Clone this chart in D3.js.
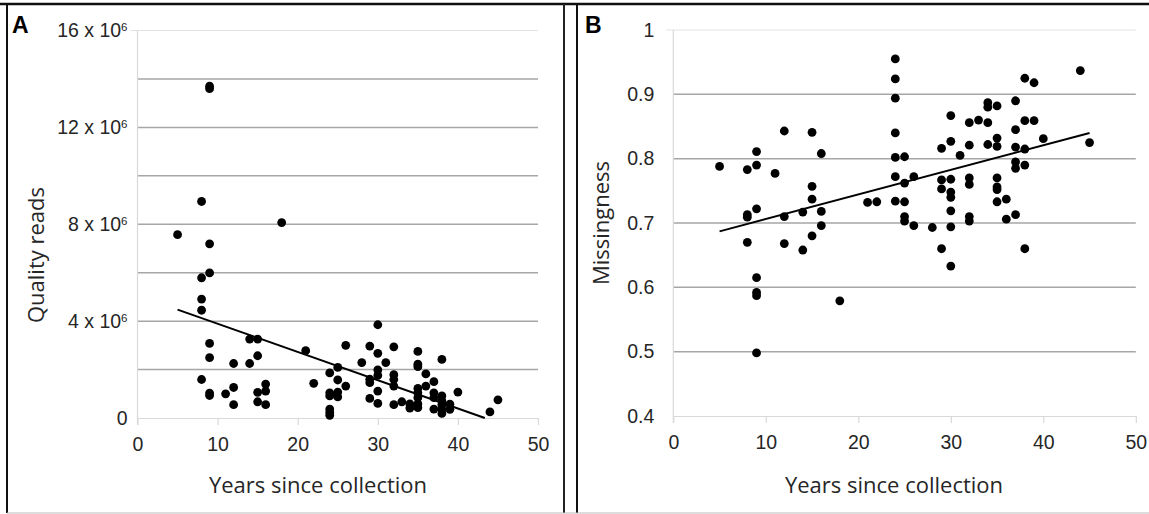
<!DOCTYPE html>
<html>
<head>
<meta charset="utf-8">
<script src="https://cdn.jsdelivr.net/npm/d3@7"></script>
<style>
  body { margin: 0; background: #fff; }
  svg { display: block; font-family: "Open Sans", sans-serif; }
  .grid line { stroke: #a6a6a6; stroke-width: 1.5; }
  .axis path, .axis line { stroke: #d9d9d9; stroke-width: 1.2; }
  .axis text { fill: #262626; font-size: 19.5px; }
  .title { fill: #262626; font-size: 22px; }
  .panel-letter { font-family: Arial, "Liberation Sans", sans-serif; font-weight: bold; font-size: 23px; }
</style>
</head>
<body>
<div id="chart"></div>
<script>
// Panel A: quality reads (millions) vs years since collection
const yearsA = [5, 8, 9, 9, 9, 18,
  8, 9, 8, 8, 9, 14, 15, 9, 15, 12, 14, 21, 8, 9, 9, 12, 11, 12, 16, 16, 15, 15, 16,
  30, 26, 29, 30, 32, 28, 31, 35, 35, 35, 38, 25, 24, 22, 25, 26, 30, 30, 29, 29, 32, 32, 32,
  36, 37, 36, 35, 35, 35, 37, 37, 40, 38, 38, 38, 38, 38, 24, 24, 25, 25, 24, 24, 24,
  29, 30, 30, 32, 33, 34, 34, 35, 35, 37, 39, 39, 44, 45];
const readsA = [7.57, 8.94, 13.7, 13.6, 7.19, 8.07,
  5.79, 5.99, 4.91, 4.45, 3.08, 3.26, 3.26, 2.49, 2.57, 2.25, 2.25, 2.78, 1.59, 1.03, 0.93, 1.26, 1.0, 0.55, 1.40, 1.11, 1.06, 0.67, 0.55,
  3.85, 3.0, 2.97, 2.67, 2.94, 2.29, 2.29, 2.75, 2.22, 2.12, 2.42, 2.09, 1.86, 1.43, 1.57, 1.32, 1.99, 1.76, 1.60, 1.46, 1.79, 1.59, 1.32,
  1.82, 1.50, 1.32, 1.22, 1.04, 0.84, 1.04, 0.84, 1.07, 0.91, 0.71, 0.55, 0.36, 0.19, 1.04, 0.91, 1.07, 0.87, 0.37, 0.23, 0.11,
  0.81, 0.60, 1.11, 0.55, 0.67, 0.58, 0.41, 0.58, 0.43, 0.37, 0.57, 0.36, 0.25, 0.75];
const trendA = { x0: 5, intercept: 5.06, slope: -0.1167 };
const ticksYA = [0, 4, 8, 12, 16];
const gridYA = [2, 4, 6, 8, 10, 12, 14];

// Panel B: missingness vs years since collection
const yearsB = [12, 15, 9, 16, 5, 8, 9, 11, 15, 15, 21, 9, 8, 8, 12, 14, 16, 16, 15, 8, 12, 14, 9, 9, 9, 18, 9,
  24, 24, 24, 24, 24, 25, 24, 26, 25, 24, 25, 22, 25, 25, 26, 28, 29, 29, 30, 30, 31, 29, 29, 30, 30, 30, 30, 30, 30,
  32, 33, 34, 34, 35, 34, 32, 34, 35, 35, 32, 32, 35, 35, 35, 35, 36, 32, 32, 36, 37, 37, 38, 39, 37, 38, 39, 37, 38,
  40, 37, 37, 38, 38, 44, 45];
const missB = [0.843, 0.841, 0.811, 0.808, 0.788, 0.783, 0.790, 0.777, 0.757, 0.737, 0.732, 0.722, 0.713, 0.709, 0.710, 0.717, 0.718, 0.696, 0.680, 0.670, 0.668, 0.658, 0.615, 0.592, 0.587, 0.579, 0.498,
  0.955, 0.924, 0.894, 0.840, 0.802, 0.803, 0.772, 0.772, 0.762, 0.734, 0.733, 0.733, 0.710, 0.703, 0.696, 0.693, 0.660, 0.816, 0.867, 0.827, 0.805, 0.767, 0.753, 0.768, 0.748, 0.740, 0.719, 0.694, 0.633,
  0.856, 0.860, 0.887, 0.880, 0.882, 0.856, 0.821, 0.822, 0.832, 0.819, 0.770, 0.760, 0.770, 0.756, 0.752, 0.733, 0.737, 0.710, 0.703, 0.706, 0.713, 0.890, 0.925, 0.918, 0.845, 0.859, 0.859, 0.818, 0.815,
  0.831, 0.795, 0.785, 0.790, 0.660, 0.937, 0.825];
const trendB = { x0: 5, intercept: 0.6679, slope: 0.003825 };
const ticksYB = [0.4, 0.5, 0.6, 0.7, 0.8, 0.9, 1];
const gridYB = [0.5, 0.6, 0.7, 0.8, 0.9];

const ticksX = [0, 10, 20, 30, 40, 50];

const W = 1149, H = 514;
const svg = d3.select("#chart").append("svg")
  .attr("width", W)
  .attr("height", H);

// panel frames
svg.append("line").attr("x1", 0).attr("x2", W).attr("y1", 4).attr("y2", 4)
  .attr("stroke", "#111").attr("stroke-width", 2.5);
svg.append("line").attr("x1", 7).attr("x2", 7).attr("y1", 4).attr("y2", 513)
  .attr("stroke", "#111").attr("stroke-width", 2);
svg.append("line").attr("x1", 564).attr("x2", 564).attr("y1", 4).attr("y2", 513)
  .attr("stroke", "#222").attr("stroke-width", 2);
svg.append("line").attr("x1", 577).attr("x2", 577).attr("y1", 4).attr("y2", 513)
  .attr("stroke", "#111").attr("stroke-width", 2);
svg.append("line").attr("x1", 7).attr("x2", W).attr("y1", 513).attr("y2", 513)
  .attr("stroke", "#bbb").attr("stroke-width", 1);

function drawPanel(cfg) {
  const x = d3.scaleLinear().domain([0, 50]).range([cfg.left, cfg.right]);
  const y = d3.scaleLinear().domain(cfg.yDomain).range([cfg.bottom, cfg.top]);
  const g = svg.append("g");

  g.append("g").attr("class", "grid")
    .selectAll("line").data(cfg.grid).join("line")
    .attr("x1", cfg.left).attr("x2", cfg.right)
    .attr("y1", d => y(d)).attr("y2", d => y(d));

  // light top line
  g.append("line")
    .attr("x1", cfg.left - 7).attr("x2", cfg.right)
    .attr("y1", y(cfg.yDomain[1])).attr("y2", y(cfg.yDomain[1]))
    .attr("stroke", "#e3e3e3").attr("stroke-width", 1.2);

  const xAxis = g.append("g").attr("class", "axis")
    .attr("transform", `translate(0,${cfg.bottom})`)
    .call(d3.axisBottom(x).tickValues(ticksX).tickSize(7).tickPadding(12).tickSizeOuter(0));
  xAxis.selectAll("text").attr("dy", "0.71em");

  const yAxis = g.append("g").attr("class", "axis")
    .attr("transform", `translate(${cfg.left},0)`)
    .call(d3.axisLeft(y).tickValues(cfg.yTicks).tickSize(0).tickPadding(cfg.yPad).tickSizeOuter(0));
  yAxis.select(".domain").attr("d", `M0,${cfg.bottom + 7}V${cfg.top}`);
  yAxis.selectAll(".tick text").each(function(d) {
    const t = d3.select(this);
    const s = cfg.fmt(d);
    if (s.sup) {
      t.text(s.base);
      t.append("tspan").attr("dy", "-0.55em").attr("font-size", "11.5px").text(s.sup);
    } else {
      t.text(s.base);
    }
  });

  // trend line clipped to plot area
  const xEnd = Math.min(50, cfg.trendEnd);
  g.append("line")
    .attr("x1", x(cfg.trend.x0)).attr("y1", y(cfg.trend.intercept + cfg.trend.slope * cfg.trend.x0))
    .attr("x2", x(xEnd)).attr("y2", y(cfg.trend.intercept + cfg.trend.slope * xEnd))
    .attr("stroke", "#000").attr("stroke-width", 2);

  g.append("g").selectAll("circle")
    .data(d3.range(cfg.xs.length)).join("circle")
    .attr("cx", i => x(cfg.xs[i]))
    .attr("cy", i => y(cfg.ys[i]))
    .attr("r", 4.4)
    .attr("fill", "#000");

  g.append("text").attr("class", "title")
    .attr("x", cfg.xTitle[0]).attr("y", cfg.xTitle[1])
    .attr("text-anchor", "middle").text("Years since collection");
  g.append("text").attr("class", "title")
    .attr("transform", `translate(${cfg.yTitle[0]},${cfg.yTitle[1]}) rotate(-90)`)
    .attr("text-anchor", "middle").text(cfg.yLabel);
  g.append("text").attr("class", "panel-letter")
    .attr("x", cfg.letter[0]).attr("y", cfg.letter[1]).text(cfg.name);
}

drawPanel({
  name: "A",
  left: 137.5, right: 538, top: 30.5, bottom: 418,
  yDomain: [0, 16], yTicks: ticksYA, grid: gridYA, yPad: 10,
  fmt: d => d === 0 ? { base: "0" } : { base: d + " x 10", sup: "6" },
  xs: yearsA, ys: readsA,
  trend: trendA, trendEnd: -trendA.intercept / trendA.slope,
  xTitle: [318, 493], yTitle: [44, 255], yLabel: "Quality reads",
  letter: [12, 33]
});

drawPanel({
  name: "B",
  left: 673.3, right: 1135.8, top: 30, bottom: 416,
  yDomain: [0.4, 1], yTicks: ticksYB, grid: gridYB, yPad: 19,
  fmt: d => ({ base: d3.format("~g")(d) }),
  xs: yearsB, ys: missB,
  trend: trendB, trendEnd: 45,
  xTitle: [894, 493], yTitle: [609, 223], yLabel: "Missingness",
  letter: [585, 33]
});
</script>
</body>
</html>
